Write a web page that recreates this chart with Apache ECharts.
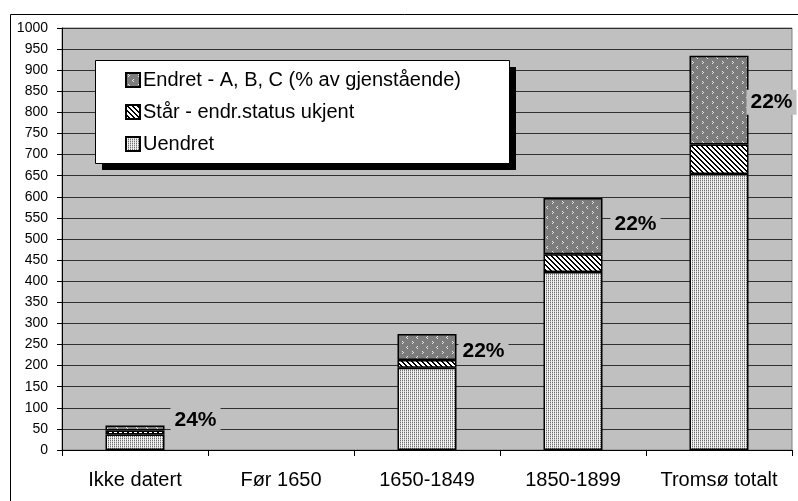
<!DOCTYPE html>
<html>
<head>
<meta charset="utf-8">
<script src="https://cdn.jsdelivr.net/npm/echarts@6/dist/echarts.min.js"></script>
<style>html,body{margin:0;padding:0;background:#fff;}#c{width:798px;height:501px;}</style>
</head>
<body>
<div id="c"></div>
<script>
const categories = ['Ikke datert', 'Før 1650', '1650-1849', '1850-1899', 'Tromsø totalt'];
const uendret = [37, 0, 195, 422, 654];
const staar = [9, 0, 18, 42, 70];
const endret = [12, 0, 62, 133, 210];
const pctLabels = ['24%', '', '22%', '22%', '22%'];
const seriesNames = ['Uendret', 'Står - endr.status ukjent', 'Endret - A, B, C (% av gjenstående)'];

function tile(w, h, bg, pts) {
  const c = document.createElement('canvas');
  c.width = w; c.height = h;
  const g = c.getContext('2d');
  g.fillStyle = bg; g.fillRect(0, 0, w, h);
  pts.forEach(p => { g.fillStyle = p[2]; g.fillRect(p[0], p[1], 1, 1); });
  return c;
}
const dotTile = tile(2, 2, '#f2f2f2', [[0,0,'#6e6e6e'],[0,1,'#c4c4c4']]);
const hatchTile = tile(5, 5, '#ffffff', [[0,0],[1,1],[2,2],[3,3],[4,4],[1,0],[2,1],[3,2],[4,3],[0,4]].map(p => [p[0], p[1], '#000']));
const arrowTile = tile(10, 10, '#7c7c7c', [[2,1],[3,2],[2,3],[7,6],[6,7],[7,8]].map(p => [p[0], p[1], '#e6e6e6']));

const pat = t => ({ image: t, repeat: 'repeat' });
const nz = v => (v === 0 ? '-' : v);

const labelDist = [6, 0, 2, 8, -2];
const labelOff = [[0, -8], [0, 0], [0, 4], [0, -2], [0, 2]];

const chart = echarts.init(document.getElementById('c'), null, { renderer: 'canvas' });
const font = 'Arial, "Liberation Sans", sans-serif';

const option = {
  animation: false,
  backgroundColor: '#ffffff',
  grid: { left: 62, right: 6, top: 28, bottom: 51, show: true, backgroundColor: '#c0c0c0', borderColor: '#808080', borderWidth: 1 },
  graphic: [
    { type: 'rect', z: -10, shape: { x: 10.5, y: 14.5, width: 800, height: 500 }, style: { fill: 'none', stroke: '#000', lineWidth: 1 } },
    { type: 'rect', z: 50, shape: { x: 102, y: 67, width: 414, height: 103 }, style: { fill: '#000' } },
    { type: 'rect', z: 51, shape: { x: 95.5, y: 60.5, width: 414, height: 103 }, style: { fill: '#fff', stroke: '#000', lineWidth: 1 } }
  ],
  legend: {
    z: 60,
    orient: 'vertical',
    left: 120, top: 65,
    itemWidth: 14, itemHeight: 14, itemGap: 12,
    data: [seriesNames[2], seriesNames[1], seriesNames[0]],
    textStyle: { fontFamily: font, fontSize: 20, color: '#000', padding: [0, 0, 0, -2] },
    icon: 'rect',
    selectedMode: false
  },
  xAxis: {
    type: 'category', data: categories,
    axisLine: { lineStyle: { color: '#000', width: 1 } },
    axisTick: { show: true, length: 6, lineStyle: { color: '#000' } },
    axisLabel: { fontFamily: font, fontSize: 20, color: '#000', margin: 20, interval: 0 },
    splitLine: { show: false }
  },
  yAxis: {
    type: 'value', min: 0, max: 1000, interval: 50,
    axisLine: { show: true, lineStyle: { color: '#000', width: 1 } },
    axisTick: { show: true, length: 5, lineStyle: { color: '#000' } },
    axisLabel: { fontFamily: font, fontSize: 14, color: '#000', margin: 14, formatter: v => String(v) },
    splitLine: { show: true, lineStyle: { color: '#303030', width: 1 } }
  },
  series: [
    { name: seriesNames[0], type: 'bar', stack: 'a', barWidth: 59, data: uendret.map(nz),
      itemStyle: { color: pat(dotTile), borderColor: '#000', borderWidth: 1.5 } },
    { name: seriesNames[1], type: 'bar', stack: 'a', barWidth: 59, data: staar.map(nz),
      itemStyle: { color: pat(hatchTile), borderColor: '#000', borderWidth: 1.5 } },
    { name: seriesNames[2], type: 'bar', stack: 'a', barWidth: 59,
      data: endret.map((v, i) => ({
        value: nz(v),
        label: { show: pctLabels[i] !== '', distance: labelDist[i], offset: labelOff[i] }
      })),
      itemStyle: { color: pat(arrowTile), borderColor: '#000', borderWidth: 1.5 },
      label: {
        position: 'right',
        formatter: p => pctLabels[p.dataIndex],
        fontFamily: font, fontSize: 21, fontWeight: 'bold', color: '#000',
        backgroundColor: '#c0c0c0', padding: [2, 4]
      }
    }
  ]
};
chart.setOption(option);
</script>
</body>
</html>
